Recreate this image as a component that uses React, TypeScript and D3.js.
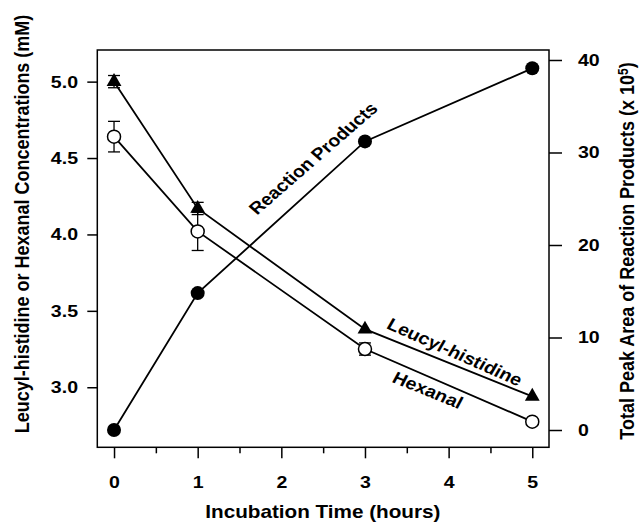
import React, { useEffect, useRef } from "react"
import * as d3 from "d3"

// incubation times (hours)
const hours = [0, 1, 3, 5]
// left axis, mM
const leucylHistidine = [5.0, 4.17, 3.38, 2.94]
const leucylHistidineErr = [0.04, 0.04, 0, 0]
const hexanal = [4.64, 4.02, 3.25, 2.775]
const hexanalErr = [0.1, 0.125, 0.04, 0]
// right axis, total peak area x 10^5
const reactionProducts = [0, 14.8, 31.2, 39.1]

const xTicks = [0, 1, 2, 3, 4, 5]
const xMinorTicks = [0.5, 1.5, 2.5, 3.5, 4.5]
const leftTicks = [3.0, 3.5, 4.0, 4.5, 5.0]
const rightTicks = [0, 10, 20, 30, 40]

const WIDTH = 644
const HEIGHT = 523
const FONT = "'Liberation Sans', Arial, Helvetica, sans-serif"
const STRETCH = 1.15 // the scanned figure is a little wider than it is tall

const drawChart = (wrapper: SVGSVGElement) => {
  const svg = d3.select(wrapper)
  svg.selectAll("*").remove()

  const left = 97.3
  const right = 549
  const top = 50
  const bottom = 447.3

  const x = d3.scaleLinear().domain([-0.2, 5.2]).range([left, right])
  const yLeft = d3.scaleLinear().domain([2.607, 5.207]).range([bottom, top])
  const yRight = d3.scaleLinear().domain([-1.87, 41.08]).range([bottom, top])

  const styleAxis = (g, anchorScale = true) => {
    g.select(".domain").remove()
    g.selectAll("line").attr("stroke", "#000").attr("stroke-width", 1.5)
    g.selectAll("text")
      .attr("font-family", FONT)
      .attr("font-weight", "bold")
      .attr("font-size", 17)
      .attr("fill", "#000")
    if (anchorScale) g.selectAll("text").attr("transform", `scale(${STRETCH},1)`)
  }

  // x axis, major and minor ticks
  svg
    .append("g")
    .attr("transform", `translate(0,${bottom})`)
    .call(d3.axisBottom(x).tickValues(xTicks).tickFormat(d3.format("d")).tickSize(11).tickPadding(18))
    .call(styleAxis)
  svg
    .append("g")
    .attr("transform", `translate(0,${bottom})`)
    .call(d3.axisBottom(x).tickValues(xMinorTicks).tickFormat(() => "").tickSize(6))
    .call(styleAxis)

  svg
    .append("g")
    .attr("transform", `translate(${left},0)`)
    .call(d3.axisLeft(yLeft).tickValues(leftTicks).tickFormat(d3.format(".1f")).tickSize(10).tickPadding(6.8))
    .call(styleAxis)

  svg
    .append("g")
    .attr("transform", `translate(${right},0)`)
    .call(d3.axisRight(yRight).tickValues(rightTicks).tickFormat(d3.format("d")).tickSize(13).tickPadding(12.2))
    .call(styleAxis)

  // frame
  svg
    .append("rect")
    .attr("x", left)
    .attr("y", top)
    .attr("width", right - left)
    .attr("height", bottom - top)
    .attr("fill", "none")
    .attr("stroke", "#000")
    .attr("stroke-width", 1.5)

  const series = [
    { values: leucylHistidine, err: leucylHistidineErr, y: yLeft, marker: "triangle" },
    { values: hexanal, err: hexanalErr, y: yLeft, marker: "open" },
    { values: reactionProducts, err: null, y: yRight, marker: "filled" },
  ]

  series.forEach(s => {
    const line = d3
      .line<number>()
      .x((d, i) => x(hours[i]))
      .y(d => s.y(d))
    svg
      .append("path")
      .attr("d", line(s.values))
      .attr("fill", "none")
      .attr("stroke", "#000")
      .attr("stroke-width", 1.8)
  })

  // error bars
  series.forEach(s => {
    if (!s.err) return
    s.values.forEach((v, i) => {
      const e = s.err[i]
      if (!e) return
      const cx = x(hours[i])
      const g = svg.append("g").attr("stroke", "#000").attr("stroke-width", 1.3)
      g.append("line").attr("x1", cx).attr("x2", cx).attr("y1", s.y(v - e)).attr("y2", s.y(v + e))
      g.append("line").attr("x1", cx - 6).attr("x2", cx + 6).attr("y1", s.y(v - e)).attr("y2", s.y(v - e))
      g.append("line").attr("x1", cx - 6).attr("x2", cx + 6).attr("y1", s.y(v + e)).attr("y2", s.y(v + e))
    })
  })

  // markers
  series.forEach(s => {
    s.values.forEach((v, i) => {
      const cx = x(hours[i])
      const cy = s.y(v)
      if (s.marker === "triangle") {
        svg
          .append("path")
          .attr("d", d3.symbol(d3.symbolTriangle, 95)())
          .attr("transform", `translate(${cx},${cy})`)
          .attr("fill", "#000")
      } else if (s.marker === "open") {
        svg
          .append("circle")
          .attr("cx", cx)
          .attr("cy", cy)
          .attr("r", 6.5)
          .attr("fill", "#fff")
          .attr("stroke", "#000")
          .attr("stroke-width", 1.5)
      } else {
        svg.append("circle").attr("cx", cx).attr("cy", cy).attr("r", 7).attr("fill", "#000")
      }
    })
  })

  // series labels along the lines
  const labelText = (text, px, py, angle) =>
    svg
      .append("text")
      .attr("transform", `translate(${px},${py}) scale(${STRETCH},1) rotate(${angle})`)
      .attr("text-anchor", "middle")
      .attr("dy", "0.35em")
      .attr("font-family", FONT)
      .attr("font-weight", "bold")
      .attr("font-size", 17)
      .text(text)

  labelText("Reaction Products", x(2.38), yRight(29.37), -45)
  labelText("Leucyl-histidine", x(4.075), yLeft(3.231), 27)
  labelText("Hexanal", x(3.752), yLeft(2.982), 25)

  // axis titles
  svg
    .append("text")
    .attr("transform", `translate(${(left + right) / 2 - 0.3},518) scale(${STRETCH},1)`)
    .attr("text-anchor", "middle")
    .attr("font-family", FONT)
    .attr("font-weight", "bold")
    .attr("font-size", 18)
    .text("Incubation Time (hours)")

  svg
    .append("text")
    .attr("transform", `translate(29,224) scale(${STRETCH},1) rotate(-90)`)
    .attr("text-anchor", "middle")
    .attr("font-family", FONT)
    .attr("font-weight", "bold")
    .attr("font-size", 18)
    .text("Leucyl-histidine or Hexanal Concentrations (mM)")

  const rightTitle = svg
    .append("text")
    .attr("transform", `translate(634,251) scale(${STRETCH},1) rotate(-90)`)
    .attr("text-anchor", "middle")
    .attr("font-family", FONT)
    .attr("font-weight", "bold")
    .attr("font-size", 18)
  rightTitle.append("tspan").text("Total Peak Area of Reaction Products (x 10")
  rightTitle.append("tspan").attr("dy", "-0.45em").attr("font-size", 12).text("5")
  rightTitle.append("tspan").attr("dy", "0.3em").text(")")
}

export default function App() {
  const ref = useRef<SVGSVGElement>(null)
  useEffect(() => {
    if (ref.current) drawChart(ref.current)
  }, [])

  return (
    <svg
      ref={ref}
      width={WIDTH}
      height={HEIGHT}
      style={{ position: "absolute", left: 0, top: 0, background: "#fff" }}
    />
  )
}
